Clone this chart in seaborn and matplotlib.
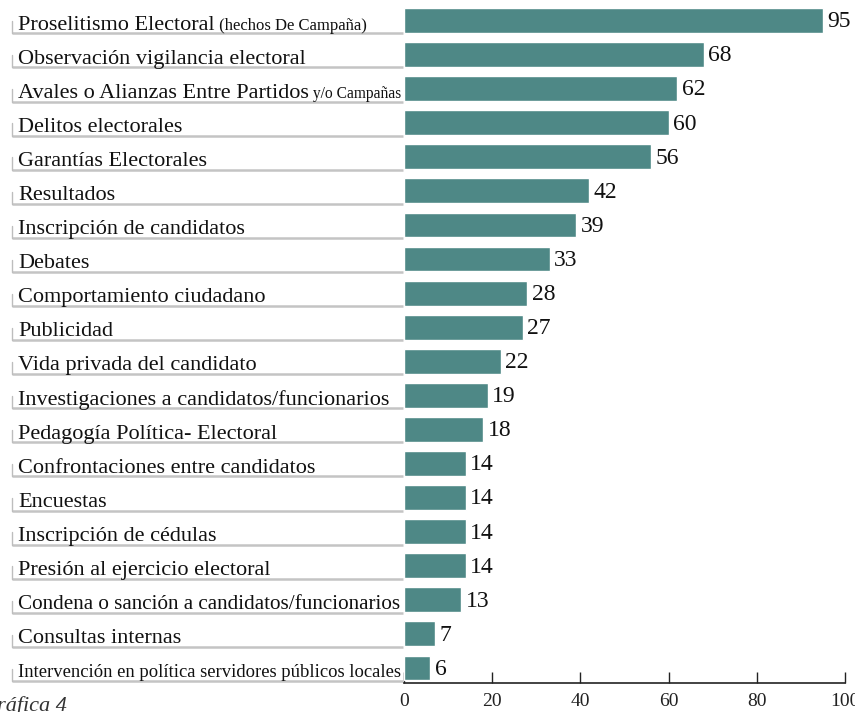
"""Gráfica 4: temas de cobertura electoral."""
import matplotlib
matplotlib.use("Agg")
import matplotlib.pyplot as plt
import seaborn as sns
import pandas as pd

# datos
temas = [
    "Proselitismo Electoral",
    "Observación vigilancia electoral",
    "Avales o Alianzas Entre Partidos",
    "Delitos electorales",
    "Garantías Electorales",
    "Resultados",
    "Inscripción de candidatos",
    "Debates",
    "Comportamiento ciudadano",
    "Publicidad",
    "Vida privada del candidato",
    "Investigaciones a candidatos/funcionarios",
    "Pedagogía Política- Electoral",
    "Confrontaciones entre candidatos",
    "Encuestas",
    "Inscripción de cédulas",
    "Presión al ejercicio electoral",
    "Condena o sanción a candidatos/funcionarios",
    "Consultas internas",
    "Intervención en política servidores públicos locales",
]
# sufijos en letra pequeña
sufijos = {0: " (hechos De Campaña)", 2: " y/o Campañas"}
valores = [95, 68, 62, 60, 56, 42, 39, 33, 28, 27, 22, 19, 18, 14, 14, 14, 14, 13, 7, 6]
xticks = [0, 20, 40, 60, 80, 100]

df = pd.DataFrame({"tema": temas, "valor": valores})

sns.set_style("white")
plt.rcParams["font.family"] = ["Liberation Serif", "DejaVu Serif"]

COLOR = "#4e8886"
W, H = 855, 712
fig = plt.figure(figsize=(W / 100, H / 100), dpi=100)
ax = fig.add_axes([404 / W, 29 / H, 441 / W, 683 / H])

sns.barplot(data=df, y="tema", x="valor", orient="h", color=COLOR,
            saturation=1, width=0.73, ax=ax)
ax.set_xlim(0, 100)
ax.set_ylim(19.44, -0.6)
ax.set_xticks(xticks)
ax.set_xticklabels([str(t) for t in xticks], fontsize=14, color="#222222")
ax.set_yticks([])
ax.set_xlabel("")
ax.set_ylabel("")
for s in ["top", "right", "left"]:
    ax.spines[s].set_visible(False)
ax.spines["bottom"].set_color("#222222")
ax.spines["bottom"].set_linewidth(1.2)
ax.tick_params(axis="x", direction="in", length=8, width=1, color="#222222",
               pad=7, bottom=True)

# valores al final de cada barra
for i, v in enumerate(valores):
    ax.text(v + 1.0, i + 0.04, str(v), va="center", ha="left",
            fontsize=17, color="#111111")

# etiquetas tipo tabla con subrayado gris
ytr = ax.get_yaxis_transform()
x_txt = (18 - 404) / 441
x_l = (12 - 404) / 441
x_r = (403 - 404) / 441
renderer = fig.canvas.get_renderer()
for i, t in enumerate(temas):
    txt = ax.text(x_txt, i + 0.27, t, transform=ytr, ha="left",
                  va="baseline", fontsize=16, color="#111111")
    last = txt
    if i in sufijos:
        last = ax.annotate(sufijos[i], xy=(1, i + 0.27),
                           xycoords=(txt, "data"), ha="left", va="baseline",
                           fontsize=12, color="#111111",
                           annotation_clip=False)
    # reducir la letra si no cabe antes de la barra
    bb = last.get_window_extent(renderer)
    if bb.x1 > 401:
        last.set_fontsize(last.get_fontsize() * (401 - bb.x0) / bb.width)
    ax.plot([x_l, x_r], [i + 0.38, i + 0.38], transform=ytr, color="#c4c4c4",
            lw=1.8, clip_on=False, solid_capstyle="butt")
    ax.plot([x_l, x_l], [i + 0.02, i + 0.38], transform=ytr, color="#bdbdbd",
            lw=1.0, clip_on=False)

fig.text(-0.022, -0.006, "Gráfica 4", style="italic", fontsize=16,
         ha="left", va="bottom", color="#333333")

fig.savefig("out.png", dpi=100)
